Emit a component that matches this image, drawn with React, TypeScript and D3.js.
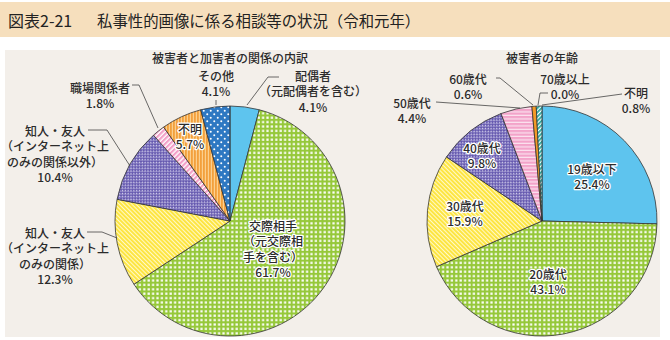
import React from "react";
import * as d3 from "d3";

const titleHead = "図表2-21";
const titleBody = "私事性的画像に係る相談等の状況（令和元年）";
const leftTitle = "被害者と加害者の関係の内訳";
const rightTitle = "被害者の年齢";

const leftCategories = ["配偶者", "交際相手", "知人・友人（ネット上のみ）", "知人・友人（ネット以外）", "職場関係者", "不明", "その他"];
const leftValues = [4.1, 61.7, 12.3, 10.4, 1.8, 5.7, 4.1];
const leftFills = ["url(#pLightBlue)", "url(#pGreen)", "url(#pYellow)", "url(#pPurple)", "url(#pPinkDiag)", "url(#pOrange)", "url(#pBlueDots)"];

const rightCategories = ["19歳以下", "20歳代", "30歳代", "40歳代", "50歳代", "60歳代", "70歳以上", "不明"];
const rightValues = [25.4, 43.1, 15.9, 9.8, 4.4, 0.6, 0.0, 0.8];
const rightFills = ["url(#pLightBlue)", "url(#pGreen)", "url(#pYellow)", "url(#pPurple)", "url(#pPinkH)", "#f39a25", "#888", "url(#pTeal)"];

type Label = { lines: string[]; x: number; y: number; halo?: boolean; leader?: [number, number][] };

const leftLabels: Label[] = [
  { lines: ["配偶者", "（元配偶者を含む）", "4.1%"], x: 313, y: 75, leader: [[279, 77], [268, 77], [247, 105]] },
  { lines: ["その他", "4.1%"], x: 216, y: 75, leader: [[216, 100], [216, 105]] },
  { lines: ["不明", "5.7%"], x: 190, y: 128, halo: true },
  { lines: ["職場関係者", "1.8%"], x: 100, y: 87, leader: [[132, 85], [139, 85], [158, 128]] },
  { lines: ["知人・友人", "（インターネット上", "のみの関係以外）", "10.4%"], x: 55, y: 130, leader: [[88, 130], [107, 130], [130, 166]] },
  { lines: ["知人・友人", "（インターネット上", "のみの関係）", "12.3%"], x: 55, y: 232, leader: [[87, 232], [102, 232], [117, 238]] },
  { lines: ["交際相手", "（元交際相", "手を含む）", "61.7%"], x: 273, y: 225, halo: true },
];

const rightLabels: Label[] = [
  { lines: ["60歳代", "0.6%"], x: 468, y: 78, leader: [[496, 78], [500, 78], [533, 105]] },
  { lines: ["70歳以上", "0.0%"], x: 565, y: 78, leader: [[548, 93], [540, 93], [538, 105]] },
  { lines: ["不明", "0.8%"], x: 636, y: 92, leader: [[622, 94], [542, 105]] },
  { lines: ["50歳代", "4.4%"], x: 412, y: 102, leader: [[436, 102], [520, 108]] },
  { lines: ["40歳代", "9.8%"], x: 482, y: 147, halo: true },
  { lines: ["19歳以下", "25.4%"], x: 592, y: 168, halo: true },
  { lines: ["30歳代", "15.9%"], x: 465, y: 205, halo: true },
  { lines: ["20歳代", "43.1%"], x: 548, y: 273, halo: true },
];

const FONT = "'Noto Sans CJK JP', 'Noto Sans', sans-serif";
const TEXT = "#2b2b2b";

function Pie({ values, fills, cx, cy, r }: { values: number[]; fills: string[]; cx: number; cy: number; r: number }) {
  const pie = d3.pie<number>().sort(null).startAngle(0).endAngle(2 * Math.PI).value((d) => d);
  const arc = d3.arc<d3.PieArcDatum<number>>().innerRadius(0).outerRadius(r);
  const arcs = pie(values);
  return (
    <g transform={`translate(${cx},${cy})`}>
      {arcs.map((a, i) =>
        a.value > 0 ? (
          <path key={i} d={arc(a) || ""} fill={fills[i]} stroke="#333" strokeWidth={0.8} strokeLinejoin="round" />
        ) : null
      )}
    </g>
  );
}

function Labels({ labels }: { labels: Label[] }) {
  return (
    <g>
      {labels.map((l, i) => (
        <g key={i}>
          {l.leader && (
            <polyline points={l.leader.map((p) => p.join(",")).join(" ")} fill="none" stroke="#444" strokeWidth={0.8} />
          )}
          {l.lines.map((t, j) => (
            <text
              key={j}
              x={l.x}
              y={l.y + j * 15.5}
              textAnchor="middle"
              dominantBaseline="central"
              fontFamily={FONT}
              fontSize={12}
              fontWeight={500}
              fill={TEXT}
              stroke={l.halo ? "#fff" : "none"}
              strokeWidth={l.halo ? 2.5 : 0}
              strokeLinejoin="round"
              style={{ paintOrder: "stroke" }}
            >
              {t}
            </text>
          ))}
        </g>
      ))}
    </g>
  );
}

export default function App() {
  return (
    <svg width={670} height={340} style={{ position: "absolute", left: 0, top: 0, background: "#fff" }}>
      <defs>
        <pattern id="pLightBlue" width={4} height={4} patternUnits="userSpaceOnUse">
          <rect width={4} height={4} fill="#5ec4ee" />
        </pattern>
        <pattern id="pGreen" width={4.4} height={4.4} patternUnits="userSpaceOnUse">
          <rect width={4.4} height={4.4} fill="#96c83a" />
          <rect x={1.2} y={1.2} width={2.2} height={2.2} fill="#fff" />
        </pattern>
        <pattern id="pYellow" width={3} height={3} patternUnits="userSpaceOnUse" patternTransform="rotate(-45)">
          <rect width={3} height={3} fill="#fff9c8" />
          <rect width={1.9} height={3} fill="#fde43c" />
        </pattern>
        <pattern id="pPurple" width={4} height={4} patternUnits="userSpaceOnUse" patternTransform="rotate(45)">
          <rect width={4} height={4} fill="#665ab0" />
          <rect x={0} y={0} width={1.5} height={1.5} fill="#d6d2ee" />
          <rect x={2} y={2} width={1.5} height={1.5} fill="#d6d2ee" />
        </pattern>
        <pattern id="pPinkDiag" width={3.5} height={3.5} patternUnits="userSpaceOnUse" patternTransform="rotate(45)">
          <rect width={3.5} height={3.5} fill="#fff" />
          <rect width={2.2} height={3.5} fill="#f3a0c8" />
        </pattern>
        <pattern id="pPinkH" width={4} height={3.5} patternUnits="userSpaceOnUse">
          <rect width={4} height={3.5} fill="#fbe3ef" />
          <rect width={4} height={2.3} fill="#f3a3c9" />
        </pattern>
        <pattern id="pOrange" width={3} height={3} patternUnits="userSpaceOnUse">
          <rect width={3} height={3} fill="#fbcf8e" />
          <rect width={1.8} height={3} fill="#f3a03c" />
        </pattern>
        <pattern id="pBlueDots" width={7} height={7} patternUnits="userSpaceOnUse">
          <rect width={7} height={7} fill="#2e78c2" />
          <circle cx={1.75} cy={1.75} r={1} fill="#fff" />
          <circle cx={5.25} cy={5.25} r={1} fill="#fff" />
        </pattern>
        <pattern id="pTeal" width={3} height={3} patternUnits="userSpaceOnUse" patternTransform="rotate(45)">
          <rect width={3} height={3} fill="#fff" />
          <rect width={1.8} height={3} fill="#2aa69c" />
        </pattern>
      </defs>

      <rect x={0} y={2} width={670} height={35} fill="#f6dfbd" />
      <text x={8} y={20} dominantBaseline="central" fontFamily={FONT} fontSize={16} fill="#222">
        {titleHead}
      </text>
      <text x={97} y={20} dominantBaseline="central" fontFamily={FONT} fontSize={15.4} fill="#222">
        {titleBody}
      </text>

      <rect x={5} y={50} width={655} height={287} fill="#f3efea" />

      <text x={230} y={57} textAnchor="middle" dominantBaseline="central" fontFamily={FONT} fontSize={12} fontWeight={500} fill={TEXT}>
        {leftTitle}
      </text>
      <text x={542} y={57} textAnchor="middle" dominantBaseline="central" fontFamily={FONT} fontSize={12} fontWeight={500} fill={TEXT}>
        {rightTitle}
      </text>

      <Pie values={leftValues} fills={leftFills} cx={230} cy={221} r={115} />
      <Pie values={rightValues} fills={rightFills} cx={542} cy={221} r={115} />

      <Labels labels={leftLabels} />
      <Labels labels={rightLabels} />
    </svg>
  );
}
